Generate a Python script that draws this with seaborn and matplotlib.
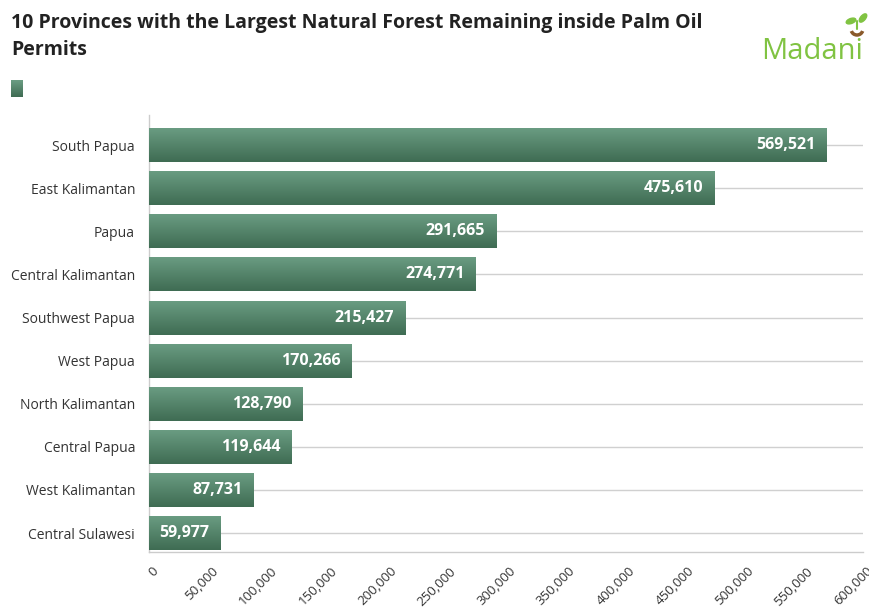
import numpy as np
import pandas as pd
import matplotlib
matplotlib.use("Agg")
import matplotlib.pyplot as plt
import matplotlib.transforms as mtransforms
import seaborn as sns
from matplotlib.colors import LinearSegmentedColormap
from matplotlib.patches import Ellipse, Arc
from matplotlib.ticker import FuncFormatter, MultipleLocator

provinces = ["South Papua", "East Kalimantan", "Papua", "Central Kalimantan",
             "Southwest Papua", "West Papua", "North Kalimantan", "Central Papua",
             "West Kalimantan", "Central Sulawesi"]
forest_ha = [569521, 475610, 291665, 274771, 215427, 170266, 128790, 119644,
             87731, 59977]

title = "10 Provinces with the Largest Natural Forest Remaining inside Palm Oil\nPermits"

df = pd.DataFrame({"province": provinces, "forest": forest_ha})

sns.set_theme(style="white")
plt.rcParams["font.family"] = ["Open Sans", "DejaVu Sans"]

W, H = 870, 610
fig = plt.figure(figsize=(W / 100, H / 100), dpi=100)
ax = fig.add_axes([149 / W, 1 - 552 / H, (863 - 149) / W, (552 - 115) / H])

sns.barplot(data=df, y="province", x="forest", orient="h", ax=ax,
            color="#55876c", width=0.79, saturation=1, zorder=3)

# vertical green gradient inside each bar
grad = LinearSegmentedColormap.from_list("bar", ["#6b9d83", "#3f6c53"])
gimg = np.linspace(0, 1, 64).reshape(-1, 1)
for p in ax.patches:
    x0, y0 = p.get_x(), p.get_y()
    w, h = p.get_width(), p.get_height()
    p.set_facecolor("none")
    p.set_edgecolor("none")
    im = ax.imshow(gimg, cmap=grad, aspect="auto", origin="upper",
                   extent=[x0, x0 + w, y0 + h, y0], zorder=3,
                   interpolation="bilinear")
    im.set_clip_path(p)

ax.set_xlim(0, 600000)
ax.set_ylim(9.44, -0.70)
ax.xaxis.set_major_locator(MultipleLocator(50000))
ax.xaxis.set_major_formatter(FuncFormatter(lambda v, _: f"{int(v):,}"))

# category gridlines
for i in range(len(provinces)):
    ax.axhline(i, color="#d0d0d0", lw=1.0, zorder=1)

for s in ["top", "right"]:
    ax.spines[s].set_visible(False)
ax.spines["left"].set_color("#cccccc")
ax.spines["bottom"].set_color("#cccccc")
ax.spines["left"].set_linewidth(1.0)
ax.spines["bottom"].set_linewidth(1.0)

ax.set_xlabel("")
ax.set_ylabel("")
ax.tick_params(axis="x", which="major", length=12, width=1, color="#cccccc",
               labelsize=9.5, labelcolor="#333333", pad=0)
ax.tick_params(axis="y", length=0, labelsize=10, labelcolor="#333333", pad=10)
shift = mtransforms.ScaledTranslation(3 / 100, 4 / 100, fig.dpi_scale_trans)
for lab in ax.get_xticklabels():
    lab.set_rotation(45)
    lab.set_ha("right")
    lab.set_va("top")
    lab.set_rotation_mode("anchor")
    lab.set_transform(lab.get_transform() + shift)

# value labels inside bar ends
for i, v in enumerate(forest_ha):
    ax.annotate(f"{v:,}", xy=(v, i), xytext=(-8, 0), textcoords="offset points",
                ha="right", va="center", color="white", fontsize=11.5,
                fontweight="bold", zorder=5)

# title
fig.text(11 / W, 1 - 13 / H, title, ha="left", va="top", fontsize=14,
         fontweight="bold", color="#222222", linespacing=1.45)

# legend swatch
sw = fig.add_axes([11 / W, 1 - 97 / H, 12 / W, 17 / H])
sw.imshow(gimg, cmap=grad, aspect="auto")
sw.axis("off")

# Madani logo
fig.text(761 / W, 1 - 59 / H, "Madani", ha="left", va="baseline",
         fontsize=21, color="#80c342", fontweight="medium")
lg = fig.add_axes([842 / W, 1 - 40 / H, 28 / W, 28 / H])
lg.set_xlim(0, 28)
lg.set_ylim(0, 28)
lg.axis("off")
lg.add_patch(Arc((15, 11), 12, 12, theta1=200, theta2=340, color="#8a5a2b", lw=2.5))
lg.add_patch(Ellipse((9, 19), 10, 5, angle=20, color="#80c342"))
lg.add_patch(Ellipse((21, 22), 10, 5, angle=50, color="#80c342"))
lg.plot([15, 15], [11, 19], color="#80c342", lw=1.5)

fig.savefig("out.png", dpi=100, facecolor="white")
